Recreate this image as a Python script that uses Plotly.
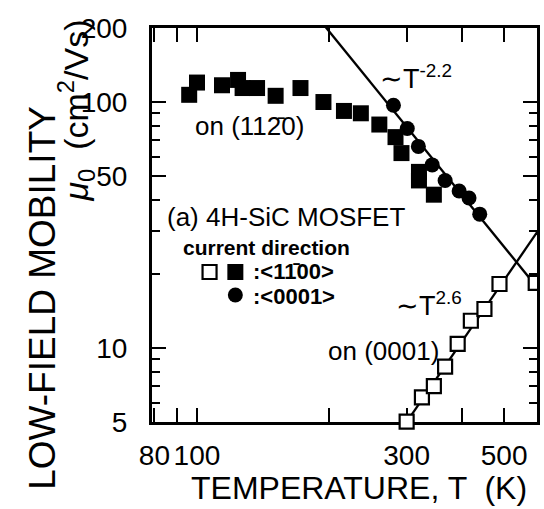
import numpy as np
import plotly.graph_objects as go

# ---------------- data ----------------
# filled squares: on (11-20), current <1-100>
filled_T = [96, 100, 114, 124, 127, 137, 151, 172, 194, 216, 236, 260, 283, 292, 320, 320, 346]
filled_mu = [107, 120, 117, 123, 114, 114, 106, 114, 100, 92, 90, 81, 72, 62, 52, 48, 42]

# filled circles: on (11-20), current <0001>
circle_T = [280, 301, 319, 343, 367, 395, 416, 440]
circle_mu = [97, 78, 66, 55.5, 48, 43.5, 40.7, 35]

# open squares: on (0001), current <1-100>
open_T = [300, 325, 346, 367, 392, 420, 451, 488]
open_mu = [5.02, 6.3, 7.0, 8.4, 10.4, 12.9, 14.4, 18.2]
edge_T = [590]
edge_mu = [18.4]

# power-law guide lines  mu = mu_ref * (T / T_ref) ** exponent
fit_neg = dict(T_ref=197.0, mu_ref=200.0, exponent=-2.2)
fit_pos = dict(T_ref=300.0, mu_ref=5.0, exponent=2.6)

x_tickvals = [80, 100, 300, 500]
x_ticktext = ["80", "100", "300", "500"]
x_minor = [90, 200, 400]
y_tickvals = [5, 10, 50, 100, 200]
y_ticktext = ["5", "10", "50", "100", "200"]
y_minor = [6, 7, 8, 9, 20, 30, 40, 60, 70, 80, 90]

# ---------------- layout geometry ----------------
W, H = 544, 509
PL, PR, PT, PB = 152, 540, 28, 422   # plot-area pixel box
FONT = "Liberation Sans, Arial, Helvetica, sans-serif"


def fx(x):
    return (x - PL) / (PR - PL)


def fy(y):
    return (PB - y) / (PB - PT)


fig = go.Figure()

T_line = np.geomspace(120, 800, 300)
for fit in (fit_neg, fit_pos):
    fig.add_trace(go.Scatter(
        x=T_line, y=fit["mu_ref"] * (T_line / fit["T_ref"]) ** fit["exponent"],
        mode="lines", line=dict(color="black", width=2.3), hoverinfo="skip"))

fig.add_trace(go.Scatter(x=filled_T, y=filled_mu, mode="markers",
                         marker=dict(symbol="square", size=16, color="black")))
fig.add_trace(go.Scatter(x=circle_T, y=circle_mu, mode="markers",
                         marker=dict(symbol="circle", size=15, color="black")))
fig.add_trace(go.Scatter(x=open_T, y=open_mu, mode="markers", cliponaxis=False,
                         marker=dict(symbol="square", size=14, color="white",
                                     line=dict(color="black", width=2.2))))
fig.add_trace(go.Scatter(x=edge_T, y=edge_mu, mode="markers", cliponaxis=True,
                         marker=dict(symbol="square", size=14, color="white",
                                     line=dict(color="black", width=2.2))))

# legend keys on an overlay 0..1 axis pair
fig.add_trace(go.Scatter(x=[fx(210)], y=[fy(272)], xaxis="x2", yaxis="y2", mode="markers",
                         marker=dict(symbol="square", size=14, color="white",
                                     line=dict(color="black", width=2.2))))
fig.add_trace(go.Scatter(x=[fx(236)], y=[fy(272)], xaxis="x2", yaxis="y2", mode="markers",
                         marker=dict(symbol="square", size=16, color="black")))
fig.add_trace(go.Scatter(x=[fx(236)], y=[fy(295)], xaxis="x2", yaxis="y2", mode="markers",
                         marker=dict(symbol="circle", size=15, color="black")))

axis_common = dict(showline=True, linewidth=3, linecolor="black", mirror="allticks",
                   ticks="inside", tickwidth=2.3, tickcolor="black", showgrid=False,
                   zeroline=False, layer="below traces",
                   tickfont=dict(family=FONT, size=28, color="black"))

fig.update_layout(
    width=W, height=H, margin=dict(l=PL, r=W - PR, t=PT, b=H - PB),
    paper_bgcolor="white", plot_bgcolor="white", showlegend=False,
    xaxis=dict(type="log", range=[np.log10(79), np.log10(594)], tickmode="array",
               tickvals=x_tickvals, ticktext=x_ticktext, ticklen=14, ticklabelstandoff=6,
               minor=dict(tickmode="array", tickvals=x_minor, ticks="inside", ticklen=14,
                          tickwidth=2.3, tickcolor="black", showgrid=False),
               **axis_common),
    yaxis=dict(type="log", range=[np.log10(5), np.log10(200)], tickmode="array",
               tickvals=y_tickvals, ticktext=y_ticktext, ticklen=14, ticklabelstandoff=16,
               minor=dict(tickmode="array", tickvals=y_minor, ticks="inside", ticklen=8,
                          tickwidth=2.3, tickcolor="black", showgrid=False),
               **axis_common),
    xaxis2=dict(overlaying="x", range=[0, 1], visible=False, fixedrange=True),
    yaxis2=dict(overlaying="y", range=[0, 1], visible=False, fixedrange=True),
)


def note(text, x, y, size, xanchor="left", yanchor="middle", angle=0):
    fig.add_annotation(text=text, x=fx(x), y=fy(y), xref="paper", yref="paper",
                       xanchor=xanchor, yanchor=yanchor, showarrow=False, textangle=angle,
                       font=dict(family=FONT, size=size, color="black"))


note("∼T<sup>-2.2</sup>", 380, 77, 27)
note("on (112\u03040)", 250, 126, 26, xanchor="center")
note("(a) 4H-SiC MOSFET", 165, 217, 26)
note("<b>current direction</b>", 181, 247, 21)
note("<b>:&lt;11\u030400&gt;</b>", 252, 271, 22)
note("<b>:&lt;0001&gt;</b>", 252, 296, 22)
note("∼T<sup>2.6</sup>", 396, 304, 27)
note("on (0001)", 385, 351, 26, xanchor="center")
note("TEMPERATURE, T  (K)", 361, 488, 32, xanchor="center")
note("LOW-FIELD MOBILITY", 41, 298, 37, xanchor="center", angle=-90)
note("<i>μ</i><sub>0</sub>  (cm<sup>2</sup>/Vs)", 75, 111, 34, xanchor="center", angle=-90)

fig.write_html("out.html")
